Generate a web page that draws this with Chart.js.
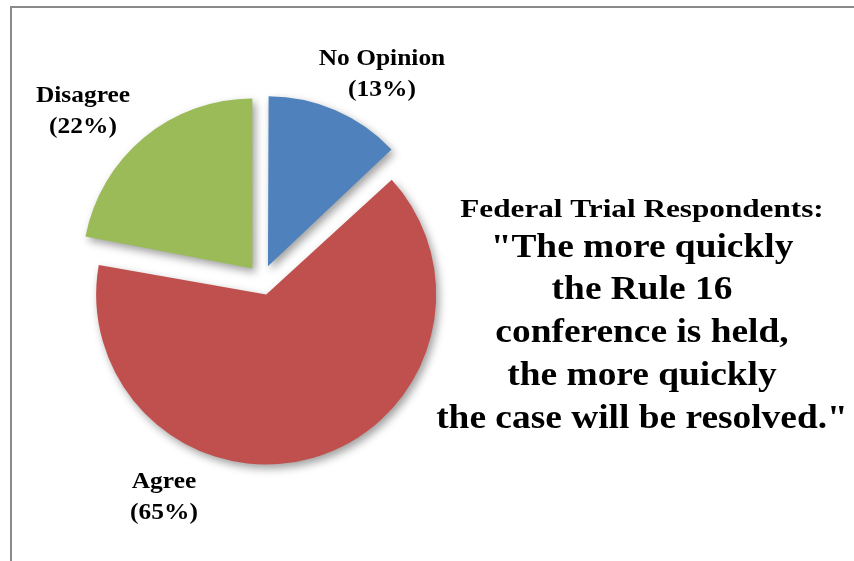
<!DOCTYPE html>
<html>
<head>
<meta charset="utf-8">
<script src="https://cdn.jsdelivr.net/npm/chart.js@4"></script>
<style>
  html, body { margin: 0; padding: 0; background: #fff; overflow: hidden; }
  #wrap { position: relative; width: 854px; height: 561px; }
  #frame { position: absolute; left: 10px; top: 6px; width: 900px; height: 600px;
           border-left: 2px solid #8a8a8a; border-top: 2px solid #8a8a8a; }
  canvas { position: absolute; left: 0; top: 0; }
</style>
</head>
<body>
<div id="wrap">
  <div id="frame"></div>
  <canvas id="pieChart" width="854" height="561"></canvas>
</div>
<script>
// data
const categories = ['No Opinion', 'Agree', 'Disagree'];
const shares = [13, 65, 22];
const sliceColors = ['#4F81BD', '#C0504D', '#9BBB59'];
const titleLines = [
    'Federal Trial Respondents:',
    '"The more quickly',
    'the Rule 16',
    'conference is held,',
    'the more quickly',
    'the case will be resolved."'
];

const pieRadius = 170;
const explode = 60; // chart.js moves a slice by offset/4 -> 15px

// label block positions relative to pie centre (first baseline, centred)
const labelSpots = [
    { dx: 120, dy: -215 },
    { dx: -98, dy: 208 },
    { dx: -179, dy: -178 }
];

// chart.js also grows an exploded arc by (offset/4)*(1 - sin(min(PI, angle))),
// take that back out so every slice has the same radius
const evenRadius = {
    id: 'evenRadius',
    afterDatasetUpdate(chart, args) {
        args.meta.data.forEach(arc => {
            const off = ((arc.options && arc.options.offset) || 0) / 4;
            const fix = 1 - Math.sin(Math.min(Math.PI, arc.circumference || 0));
            arc.outerRadius = pieRadius - off * fix;
        });
    }
};

const shadowPlugin = {
    id: 'sliceShadow',
    beforeDatasetDraw(chart) {
        const ctx = chart.ctx;
        ctx.save();
        ctx.shadowColor = 'rgba(0,0,0,0.38)';
        ctx.shadowBlur = 9;
        ctx.shadowOffsetX = 3;
        ctx.shadowOffsetY = 4;
    },
    afterDatasetDraw(chart) {
        chart.ctx.restore();
    }
};

const textPlugin = {
    id: 'pieText',
    afterDraw(chart) {
        const ctx = chart.ctx;
        const arcs = chart.getDatasetMeta(0).data;
        ctx.save();
        ctx.fillStyle = '#000';
        ctx.textAlign = 'center';
        ctx.textBaseline = 'alphabetic';

        // slice labels
        arcs.forEach((arc, i) => {
            const x = arc.x + labelSpots[i].dx;
            const y = arc.y + labelSpots[i].dy;
            ctx.save();
            ctx.font = 'bold 24px "Liberation Serif", serif';
            ctx.translate(x, y);
            ctx.scale(1.06, 1);
            ctx.fillText(categories[i], 0, 0);
            ctx.fillText('(' + shares[i] + '%)', 0, 31);
            ctx.restore();
        });

        // quote block on the right
        const cx = 642;
        const baselines = [217, 257, 299, 342, 385, 428];
        titleLines.forEach((line, i) => {
            ctx.save();
            ctx.translate(cx, baselines[i]);
            if (i === 0) {
                ctx.font = 'bold 26px "Liberation Serif", serif';
                ctx.scale(1.2, 1);
            } else {
                ctx.font = 'bold 34px "Liberation Serif", serif';
                ctx.scale(1.1, 1);
            }
            ctx.fillText(line, 0, 0);
            ctx.restore();
        });
        ctx.restore();
    }
};

document.addEventListener('DOMContentLoaded', () => {
    const ctx = document.getElementById('pieChart').getContext('2d');
    new Chart(ctx, {
        type: 'pie',
        data: {
            labels: categories,
            datasets: [{
                data: shares,
                backgroundColor: sliceColors,
                borderWidth: 0,
                offset: explode,
                radius: pieRadius
            }]
        },
        options: {
            responsive: false,
            animation: false,
            layout: { padding: { left: 77, right: 407, top: 95, bottom: 96 } },
            plugins: {
                legend: { display: false },
                tooltip: { enabled: false },
                title: { display: false }
            }
        },
        plugins: [evenRadius, shadowPlugin, textPlugin]
    });
});
</script>
</body>
</html>
